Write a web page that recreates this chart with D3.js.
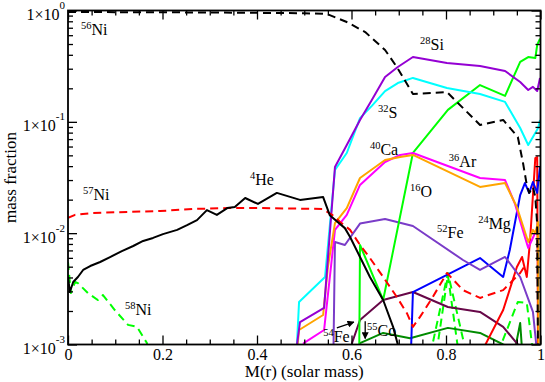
<!DOCTYPE html>
<html>
<head>
<meta charset="utf-8">
<script src="https://cdn.jsdelivr.net/npm/d3@7"></script>
<style>
  body { margin: 0; background: #fff; }
  svg text { font-family: "Liberation Serif", "Times New Roman", serif; fill: #000; }
</style>
</head>
<body>
<svg id="chart"></svg>
<script>
// [M(r), mass fraction] pairs; 5e-4 means "below the axis"
const ni56 = [[0,0.97],[0.3,0.96],[0.5,0.945],[0.548,0.93],[0.590,0.788],[0.629,0.64],[0.671,0.442],[0.696,0.311],[0.730,0.178],[0.802,0.185],[0.872,0.0937],[0.921,0.104],[0.952,0.0731],[0.963,0.0427],[0.971,0.0271],[0.976,0.023],[0.984,0.026],[0.989,0.0211],[0.993,0.012],[0.995,0.0005]];
const ni57 = [[0,0.0137],[0.015,0.0146],[0.053,0.0152],[0.125,0.0155],[0.195,0.0158],[0.265,0.0165],[0.337,0.0168],[0.406,0.0168],[0.538,0.0165],[0.559,0.0146],[0.576,0.0126],[0.597,0.0107],[0.618,0.00783],[0.639,0.00598],[0.667,0.00404],[0.696,0.00267],[0.717,0.00192],[0.730,0.00144],[0.745,0.00177],[0.772,0.00267],[0.802,0.00439],[0.836,0.00308],[0.872,0.00262],[0.921,0.00308],[0.957,0.00439],[0.967,0.0051]];
const ni58 = [[0,0.00551],[0.006,0.0029],[0.015,0.00364],[0.021,0.00356],[0.042,0.0029],[0.063,0.00251],[0.074,0.00278],[0.099,0.00204],[0.127,0.0015],[0.146,0.00144],[0.167,0.00103],[0.174,0.0005],[0.756,0.0005],[0.804,0.00439],[0.855,0.0005],[0.889,0.0005],[0.952,0.00241],[0.971,0.00236],[0.991,0.0005]];
const ni58b = [[0.772,0.0005],[0.804,0.0042],[0.834,0.0005]];
const he4 = [[0,0.00404],[0.004,0.00296],[0.011,0.00364],[0.021,0.00404],[0.032,0.00467],[0.047,0.00507],[0.068,0.00551],[0.089,0.0061],[0.114,0.0069],[0.138,0.00767],[0.159,0.00851],[0.180,0.00906],[0.201,0.0098],[0.231,0.0107],[0.252,0.0118],[0.273,0.0131],[0.294,0.0161],[0.315,0.0146],[0.337,0.0168],[0.353,0.0172],[0.375,0.0207],[0.402,0.0183],[0.442,0.023],[0.491,0.0199],[0.540,0.0211],[0.554,0.0145],[0.586,0.0111],[0.597,0.00925],[0.618,0.00611],[0.639,0.00404],[0.667,0.00251],[0.688,0.00144],[0.698,0.001],[0.703,0.0005]];
const si28 = [[0.483,0.0005],[0.485,0.00103],[0.491,0.00159],[0.542,0.00213],[0.546,0.00356],[0.565,0.0393],[0.590,0.0619],[0.618,0.104],[0.643,0.157],[0.671,0.253],[0.698,0.311],[0.730,0.382],[0.802,0.338],[0.872,0.317],[0.925,0.286],[0.957,0.228],[0.974,0.193],[0.984,0.206],[0.993,0.189],[0.999,0.248]];
const s32 = [[0.483,0.0005],[0.485,0.0011],[0.489,0.00241],[0.544,0.00404],[0.565,0.0369],[0.590,0.0525],[0.618,0.108],[0.643,0.139],[0.671,0.189],[0.698,0.223],[0.730,0.248],[0.802,0.201],[0.872,0.178],[0.925,0.151],[0.957,0.0881],[0.974,0.0619],[0.984,0.0731],[0.995,0.088],[0.999,0.104]];
const ca40 = [[0.485,0.0009],[0.489,0.00135],[0.540,0.00184],[0.550,0.00496],[0.565,0.0123],[0.590,0.0168],[0.618,0.0313],[0.671,0.0454],[0.703,0.0483],[0.730,0.0504],[0.872,0.026],[0.925,0.0282],[0.950,0.0172],[0.974,0.00833],[0.984,0.0107],[0.989,0.01],[0.995,0.0126],[0.996,0.0005]];
const ar36 = [[0.497,0.0005],[0.499,0.00103],[0.542,0.00135],[0.565,0.0107],[0.590,0.0146],[0.618,0.0271],[0.671,0.0436],[0.703,0.0504],[0.730,0.0525],[0.872,0.0313],[0.925,0.03],[0.946,0.0183],[0.974,0.00736],[0.984,0.0091],[0.993,0.0111],[0.997,0.012]];
const fe52 = [[0.561,0.0005],[0.565,0.00833],[0.586,0.00783],[0.618,0.0122],[0.671,0.0134],[0.730,0.0116],[0.836,0.00574],[0.872,0.00467],[0.925,0.00611],[0.957,0.00404],[0.984,0.00196],[0.991,0.001],[0.993,0.0005]];
const mg24 = [[0.724,0.0005],[0.730,0.00296],[0.872,0.00598],[0.921,0.00404],[0.935,0.00706],[0.957,0.022],[0.967,0.0282],[0.976,0.023],[0.984,0.0288],[0.993,0.023],[0.999,0.0393]];
const o16 = [[0.616,0.0005],[0.618,0.00783],[0.667,0.00251],[0.730,0.0525],[0.804,0.128],[0.872,0.214],[0.925,0.171],[0.957,0.345],[0.974,0.382],[0.989,0.374],[0.993,0.49],[0.999,0.56]];
const fe54 = [[0.599,0.0005],[0.601,0.00103],[0.618,0.00166],[0.667,0.00251],[0.730,0.00296],[0.804,0.00217],[0.872,0.00196],[0.921,0.00144],[0.952,0.001],[0.957,0.0008]];
const co55 = [[0.614,0.0005],[0.618,0.00103],[0.667,0.00127],[0.724,0.00114],[0.804,0.00141],[0.872,0.00127],[0.921,0.001],[0.946,0.0009],[0.957,0.00156],[0.965,0.0005]];
const redSolid = [[0.878,0.0009],[0.921,0.00204],[0.950,0.00496],[0.961,0.00611],[0.971,0.00404],[0.978,0.00869],[0.989,0.0473],[0.993,0.0483],[0.995,0.0005]];

// axis ticks and labels
const xTicks = [0, 0.2, 0.4, 0.6, 0.8, 1];
const xTickLabels = ["0", "0.2", "0.4", "0.6", "0.8", "1"];
const yTicks = [1e-3, 1e-2, 1e-1, 1];
const yExponents = ["-3", "-2", "-1", "0"];

// species labels: [mass number, symbol, x, y] (left edge of superscript, baseline)
const speciesLabels = [
  ["56", "Ni", 0.0275, 0.603],
  ["57", "Ni", 0.0317, 0.0199],
  ["58", "Ni", 0.1206, 0.00184],
  ["4", "He", 0.385, 0.0271],
  ["28", "Si", 0.745, 0.442],
  ["32", "S", 0.656, 0.108],
  ["40", "Ca", 0.639, 0.0504],
  ["36", "Ar", 0.806, 0.0393],
  ["16", "O", 0.724, 0.0211],
  ["52", "Fe", 0.781, 0.00906],
  ["24", "Mg", 0.868, 0.0109],
  ["54", "Fe", 0.540, 0.00105],
  ["55", "Co", 0.633, 0.00119]
];

// arrows pointing at 54Fe and 55Co: [x0, y0, x1, y1]
const arrows = [
  [0.569, 0.00141, 0.605, 0.00159],
  [0.629, 0.00162, 0.629, 0.00113]
];

class AbundancePlot {
  constructor(_config) {
    this.config = {
      parentElement: _config.parentElement,
      containerWidth: _config.containerWidth || 545,
      containerHeight: _config.containerHeight || 382,
      margin: _config.margin || {top: 10.5, right: 4.5, bottom: 37.5, left: 68}
    };
    this.series = _config.series;
    this.initVis();
  }

  initVis() {
    let vis = this;
    vis.width = vis.config.containerWidth - vis.config.margin.left - vis.config.margin.right;
    vis.height = vis.config.containerHeight - vis.config.margin.top - vis.config.margin.bottom;

    vis.svg = d3.select(vis.config.parentElement)
      .attr('width', vis.config.containerWidth)
      .attr('height', vis.config.containerHeight);

    vis.chart = vis.svg.append('g')
      .attr('transform', `translate(${vis.config.margin.left},${vis.config.margin.top})`);

    vis.x = d3.scaleLinear().domain([0, 1]).range([0, vis.width]);
    vis.y = d3.scaleLog().domain([1e-3, 1]).range([vis.height, 0]);

    vis.chart.append('clipPath').attr('id', 'plot-clip')
      .append('rect').attr('width', vis.width).attr('height', vis.height);

    // curves
    const line = d3.line().x(d => vis.x(d[0])).y(d => vis.y(d[1]));
    vis.chart.append('g')
      .attr('clip-path', 'url(#plot-clip)')
      .selectAll('path')
      .data(vis.series)
      .join('path')
        .attr('d', d => line(d.values))
        .attr('fill', 'none')
        .attr('stroke', d => d.color)
        .attr('stroke-width', 2)
        .attr('stroke-dasharray', d => d.dashed ? '8,5' : null)
        .attr('stroke-linejoin', 'round');

    vis.drawAxes();
    vis.drawLabels();
  }

  drawAxes() {
    let vis = this;
    const xMinor = d3.range(0, 1.0001, 0.05).filter(v => !xTicks.some(t => Math.abs(t - v) < 1e-6));
    const yMinor = [];
    [1e-3, 1e-2, 1e-1].forEach(dec => d3.range(2, 10).forEach(k => yMinor.push(dec * k)));

    const tickStyle = g => {
      g.select('.domain').remove();
      g.selectAll('.tick line').attr('stroke', '#000').attr('stroke-width', 1.3);
    };

    // bottom
    vis.chart.append('g')
      .attr('transform', `translate(0,${vis.height})`)
      .call(d3.axisBottom(vis.x).tickValues(xTicks).tickSize(-9).tickPadding(4)
        .tickFormat((d, i) => xTickLabels[i]))
      .call(tickStyle)
      .call(g => g.selectAll('.tick text').attr('font-size', 16).attr('font-family', '"Liberation Serif", serif'));
    vis.chart.append('g')
      .attr('transform', `translate(0,${vis.height})`)
      .call(d3.axisBottom(vis.x).tickValues(xMinor).tickSize(-5).tickFormat(''))
      .call(tickStyle);
    // top
    vis.chart.append('g')
      .call(d3.axisTop(vis.x).tickValues(xTicks).tickSize(-9).tickFormat(''))
      .call(tickStyle);
    vis.chart.append('g')
      .call(d3.axisTop(vis.x).tickValues(xMinor).tickSize(-5).tickFormat(''))
      .call(tickStyle);
    // left
    vis.chart.append('g')
      .call(d3.axisLeft(vis.y).tickValues(yTicks).tickSize(-9).tickFormat(''))
      .call(tickStyle);
    vis.chart.append('g')
      .call(d3.axisLeft(vis.y).tickValues(yMinor).tickSize(-5).tickFormat(''))
      .call(tickStyle);
    // right
    vis.chart.append('g')
      .attr('transform', `translate(${vis.width},0)`)
      .call(d3.axisRight(vis.y).tickValues(yTicks).tickSize(-9).tickFormat(''))
      .call(tickStyle);
    vis.chart.append('g')
      .attr('transform', `translate(${vis.width},0)`)
      .call(d3.axisRight(vis.y).tickValues(yMinor).tickSize(-5).tickFormat(''))
      .call(tickStyle);

    // y tick labels 1x10^n
    const yl = vis.chart.append('g').selectAll('text')
      .data(yTicks)
      .join('text')
        .attr('x', -3)
        .attr('y', d => vis.y(d) + 9.5)
        .attr('text-anchor', 'end')
        .attr('font-size', 16);
    yl.append('tspan').text('1\u00d710');
    yl.append('tspan').attr('font-size', 11).attr('dy', -11).text((d, i) => yExponents[i]);

    // frame
    vis.chart.append('rect')
      .attr('width', vis.width).attr('height', vis.height)
      .attr('fill', 'none').attr('stroke', '#000').attr('stroke-width', 1.8);

    // axis titles
    vis.chart.append('text')
      .attr('x', vis.width / 2).attr('y', vis.height + 32.5)
      .attr('text-anchor', 'middle').attr('font-size', 17)
      .text('M(r) (solar mass)');
    vis.svg.append('text')
      .attr('transform', `translate(16,${vis.config.margin.top + vis.height / 2}) rotate(-90)`)
      .attr('text-anchor', 'middle').attr('font-size', 17)
      .text('mass fraction');
  }

  drawLabels() {
    let vis = this;
    const lab = vis.chart.append('g').selectAll('text')
      .data(speciesLabels)
      .join('text')
        .attr('x', d => vis.x(d[2]))
        .attr('y', d => vis.y(d[3]));
    lab.append('tspan').attr('font-size', 10.5).attr('dy', -6).text(d => d[0]);
    lab.append('tspan').attr('font-size', 16).attr('dy', 6).text(d => d[1]);

    vis.svg.append('defs').append('marker')
      .attr('id', 'arrowhead').attr('viewBox', '0 0 10 10')
      .attr('refX', 9).attr('refY', 5)
      .attr('markerWidth', 7).attr('markerHeight', 7)
      .attr('markerUnits', 'userSpaceOnUse')
      .attr('orient', 'auto')
      .append('path').attr('d', 'M0,0 L10,5 L0,10 Z').attr('fill', '#000');

    vis.chart.append('g').selectAll('line')
      .data(arrows)
      .join('line')
        .attr('x1', d => vis.x(d[0])).attr('y1', d => vis.y(d[1]))
        .attr('x2', d => vis.x(d[2])).attr('y2', d => vis.y(d[3]))
        .attr('stroke', '#000').attr('stroke-width', 1.3)
        .attr('marker-end', 'url(#arrowhead)');
  }
}

const seriesList = [
  {name: '58Ni', values: ni58, color: '#00ff00', dashed: true},
  {name: '58Ni-b', values: ni58b, color: '#00ff00', dashed: true},
  {name: '55Co', values: co55, color: '#008b00', dashed: false},
  {name: '54Fe', values: fe54, color: '#670748', dashed: false},
  {name: 'red', values: redSolid, color: '#ff0000', dashed: false},
  {name: '24Mg', values: mg24, color: '#0000ff', dashed: false},
  {name: '52Fe', values: fe52, color: '#7a3cc8', dashed: false},
  {name: '16O', values: o16, color: '#00ff00', dashed: false},
  {name: '36Ar', values: ar36, color: '#ff00ff', dashed: false},
  {name: '40Ca', values: ca40, color: '#ffa500', dashed: false},
  {name: '32S', values: s32, color: '#00ffff', dashed: false},
  {name: '28Si', values: si28, color: '#9400d3', dashed: false},
  {name: '57Ni', values: ni57, color: '#ff0000', dashed: true},
  {name: '4He', values: he4, color: '#000000', dashed: false},
  {name: '56Ni', values: ni56, color: '#000000', dashed: true}
];

new AbundancePlot({parentElement: '#chart', series: seriesList});
</script>
</body>
</html>
